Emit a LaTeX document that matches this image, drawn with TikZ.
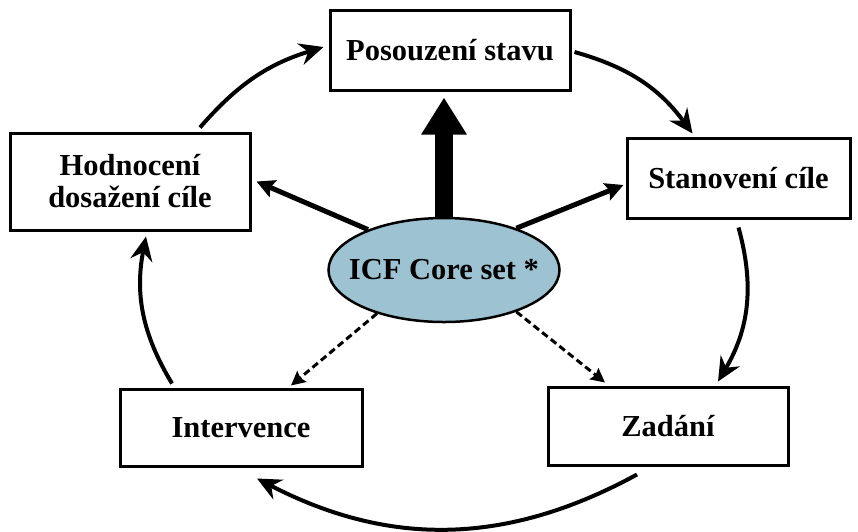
\documentclass[tikz,border=0pt]{standalone}
\usepackage{fontspec}
\setmainfont{Liberation Serif}
\usetikzlibrary{arrows.meta,shapes.geometric}
\definecolor{icfblue}{RGB}{157,195,210}
\tikzset{
  lbl/.style={font=\fontsize{30.5}{32}\selectfont\bfseries, align=center, inner sep=0pt},
  box/.style={lbl, draw=black, line width=3pt, fill=white},
  cyc/.style={line width=4pt, -{Stealth[length=24pt,width=22pt,inset=8pt]}},
  side/.style={line width=5pt, -{Stealth[length=18pt,width=18pt,inset=3pt]}},
  dsh/.style={line width=3pt, dash pattern=on 7pt off 4pt, -{Stealth[length=14pt,width=14pt,inset=2pt]}}
}
\begin{document}
\begin{tikzpicture}[x=1pt,y=1pt]
\useasboundingbox (0,0) rectangle (858,-531);
\node[box, minimum width=240pt, minimum height=80pt] (pos) at (450,-50) {Posouzení stavu};
\node[box, minimum width=223pt, minimum height=80pt] (stan) at (738.5,-178) {Stanovení cíle};
\node[box, minimum width=240pt, minimum height=78pt] (zad) at (668,-426) {Zadání};
\node[box, minimum width=242pt, minimum height=77pt] (int) at (241,-427.5) {Intervence};
\node[box, minimum width=240pt, minimum height=97pt] (hod) at (130,-181.5) {Hodnocení\\dosažení cíle};
\node[ellipse, draw=black, line width=2.5pt, fill=icfblue, minimum width=231pt, minimum height=104pt,
  inner sep=0pt] (icf) at (444,-270) {};
\node[lbl] (icft) at (icf.center) {ICF Core set *};
% thick central arrow
\draw[line width=18pt, -{Triangle[width=43pt,length=37pt]}] (icf.north) -- ([yshift=-6pt]icf.north |- pos.south);
% side arrows
\draw[side] (icf.152) -- ([xshift=5pt]hod.east);
\draw[side] (icf.30) -- ([xshift=-2pt,yshift=-7pt]stan.west);
% dashed arrows
\draw[dsh] (icf.213) -- ([xshift=50pt,yshift=2pt]int.north);
\draw[dsh] (icf.-30) -- ([xshift=-63pt,yshift=3pt]zad.north);
% cycle arrows
\draw[cyc] ([xshift=3pt,yshift=-2pt]pos.east) to[bend left=19] ([xshift=-46pt,yshift=3pt]stan.north);
\draw[cyc] ([yshift=-8pt]stan.south) to[bend left=23] ([xshift=50pt,yshift=4pt]zad.north);
\draw[cyc] ([xshift=-31pt,yshift=-8pt]zad.south) to[bend left=28] ([xshift=16pt,yshift=-11pt]int.south);
\draw[cyc] ([xshift=-69pt,yshift=4pt]int.north) to[bend left=21] ([xshift=16pt,yshift=-5pt]hod.south);
\draw[cyc] ([xshift=70pt,yshift=4pt]hod.north) to[bend left=16] ([xshift=-5pt,yshift=3pt]pos.west);
\end{tikzpicture}
\end{document}
